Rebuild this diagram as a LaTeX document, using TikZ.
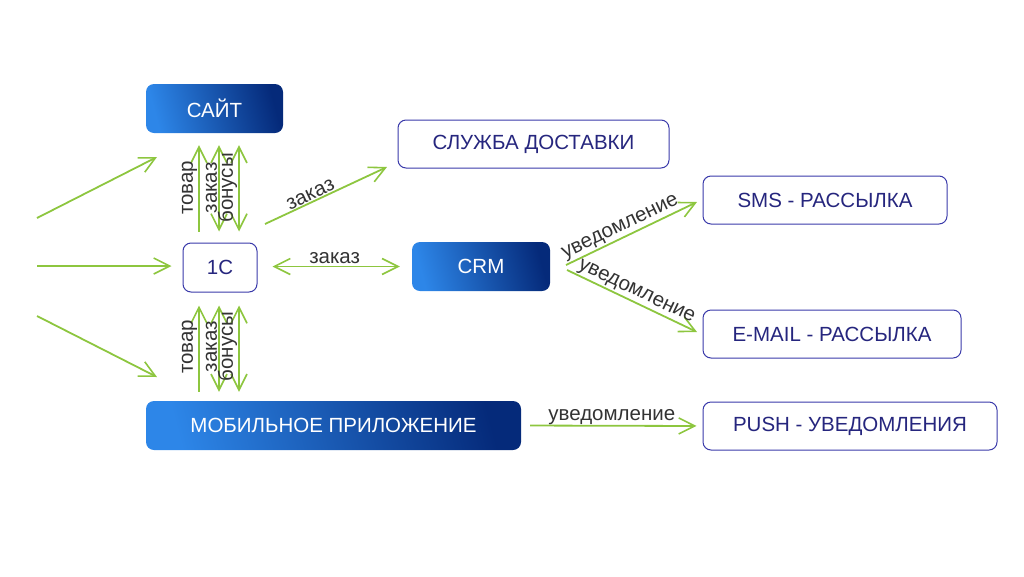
\documentclass[tikz,border=0pt]{standalone}
\usepackage{fontspec}
\setmainfont{Liberation Sans}
\usetikzlibrary{arrows.meta,calc}
\definecolor{bluelight}{HTML}{2D86E8}
\definecolor{bluedark}{HTML}{052A7A}
\definecolor{navyline}{HTML}{3A3AAA}
\definecolor{navytext}{HTML}{26267E}
\definecolor{arrowgreen}{HTML}{8DC63F}
\definecolor{labelgray}{HTML}{333333}
\tikzset{
  tipbarb/.tip={Straight Barb[length=16pt,width=16pt,line width=1.6pt]},
  filledbox/.style={rounded corners=8pt, left color=bluelight, right color=bluedark,
    shading angle=105, text=white, font=\fontsize{20.5}{22}\selectfont,
    minimum height=49pt, inner sep=0pt},
  outlinebox/.style={rounded corners=8pt, draw=navyline, line width=1pt, fill=white,
    text=navytext, font=\fontsize{20.5}{22}\selectfont, minimum height=48pt, inner sep=0pt},
  flow/.style={draw=arrowgreen, line width=1.8pt, -tipbarb},
  flowboth/.style={draw=arrowgreen, line width=1.8pt, tipbarb-tipbarb},
  lbl/.style={text=labelgray, font=\fontsize{20.5}{22}\selectfont, inner sep=1pt}
}
\begin{document}
\begin{tikzpicture}[x=1pt,y=-1pt]
\useasboundingbox (0,0) rectangle (1024,576);
% nodes
\node[filledbox, minimum width=137pt] (site) at (214.5,108.5) {САЙТ};
\node[outlinebox, minimum width=74pt, minimum height=49pt] (onec) at (220,267.5) {1С};
\node[outlinebox, minimum width=271pt] (dost) at (533.5,144) {СЛУЖБА ДОСТАВКИ};
\node[filledbox, minimum width=138pt] (crm) at (481,266.5) {CRM};
\node[outlinebox, minimum width=244pt] (sms) at (825,200) {SMS - РАССЫЛКА};
\node[outlinebox, minimum width=258pt] (email) at (832,334) {E-MAIL - РАССЫЛКА};
\node[filledbox, minimum width=375pt] (mob) at (333.5,425.5) {МОБИЛЬНОЕ ПРИЛОЖЕНИЕ};
\node[outlinebox, minimum width=294pt] (push) at (850,426) {PUSH - УВЕДОМЛЕНИЯ};
% free ends
\coordinate (in1) at (37,218);
\coordinate (in1e) at (157,157);
\coordinate (in2) at (37,266);
\coordinate (in3) at (37,316);
\coordinate (in3e) at (157,377);
\coordinate (zs) at (265,224);
\coordinate (ze) at (387,167);
\coordinate (cs1) at (566,265);
\coordinate (ce1) at (697,202);
\coordinate (cs2) at (567,270);
\coordinate (ce2) at (697,332);
% incoming
\draw[flow] (in1) -- (in1e);
\draw[flow, shorten >=11pt] (in2) -- (in2 -| onec.west);
\draw[flow] (in3) -- (in3e);
% 1C <-> site
\draw[flow, shorten <=11pt, shorten >=12pt] ([xshift=-21pt]onec.north) -- ([xshift=-21pt]onec.north |- site.south)
  node[lbl, midway, sloped, above] {товар};
\draw[flowboth, shorten <=11pt, shorten >=12pt] ([xshift=-1pt]onec.north) -- ([xshift=-1pt]onec.north |- site.south)
  node[lbl, midway, sloped, above] {заказ};
\draw[flowboth, shorten <=11pt, shorten >=12pt] ([xshift=19pt]onec.north) -- ([xshift=19pt]onec.north |- site.south)
  node[lbl, midway, sloped, above] {бонусы};
% mobile -> 1C
\draw[flow, shorten <=9pt, shorten >=13pt] ([xshift=-21pt]onec.south |- mob.north) -- ([xshift=-21pt]onec.south)
  node[lbl, midway, sloped, above] {товар};
\draw[flowboth, shorten <=9pt, shorten >=13pt] ([xshift=-1pt]onec.south |- mob.north) -- ([xshift=-1pt]onec.south)
  node[lbl, midway, sloped, above] {заказ};
\draw[flowboth, shorten <=9pt, shorten >=13pt] ([xshift=19pt]onec.south |- mob.north) -- ([xshift=19pt]onec.south)
  node[lbl, midway, sloped, above] {бонусы};
% orders
\draw[flow] (zs) -- (ze) node[lbl, pos=0.4, sloped, above] {заказ};
\draw[flowboth, shorten <=15pt, shorten >=12pt] (onec.east |- crm.west) -- (crm.west)
  node[lbl, midway, above, yshift=1pt] {заказ};
% notifications
\draw[flow] (cs1) -- (ce1) node[lbl, pos=0.45, sloped, above] {уведомление};
\draw[flow] (cs2) -- (ce2) node[lbl, pos=0.5, sloped, above] {уведомление};
\draw[flow, shorten <=9pt, shorten >=6pt] (mob.east) -- (push.west)
  node[lbl, midway, above, yshift=-1pt] {уведомление};
\end{tikzpicture}
\end{document}
